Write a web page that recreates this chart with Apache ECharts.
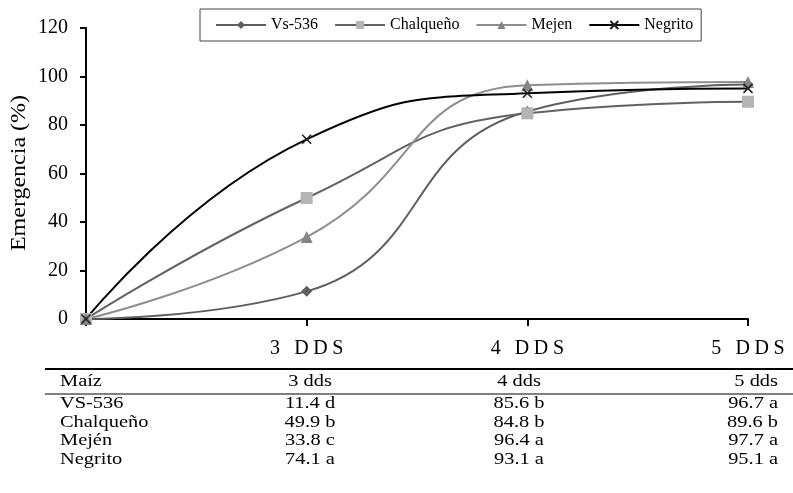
<!DOCTYPE html>
<html><head><meta charset="utf-8">
<script src="https://cdn.jsdelivr.net/npm/echarts@6/dist/echarts.min.js"></script>
<style>html,body{margin:0;padding:0;background:#fff}#c{width:793px;height:493px}</style>
</head><body><div id="c"></div>
<script>
const categories = ['', '3 DDS', '4 DDS', '5 DDS'];
const seriesNames = ['Vs-536', 'Chalqueño', 'Mejen', 'Negrito'];
const vs536 = [0, 11.4, 85.6, 96.7];
const chalqueno = [0, 49.9, 84.8, 89.6];
const mejen = [0, 33.8, 96.4, 97.7];
const negrito = [0, 74.1, 93.1, 95.1];
const yTicks = [0, 20, 40, 60, 80, 100, 120];
const yAxisTitle = 'Emergencia (%)';

const tableHeader = ['Maíz', '3 dds', '4 dds', '5 dds'];
const tableRows = ['VS-536', 'Chalqueño', 'Mején', 'Negrito'];
const table3 = ['11.4 d', '49.9 b', '33.8 c', '74.1 a'];
const table4 = ['85.6 b', '84.8 b', '96.4 a', '93.1 a'];
const table5 = ['96.7 a', '89.6 b', '97.7 a', '95.1 a'];

const FONT = '"Liberation Serif", "Times New Roman", serif';
const chart = echarts.init(document.getElementById('c'), null, {renderer: 'canvas'});

const cross = 'path://M0,0L10,10M10,0L0,10';
function mk(name, data, lineColor, symbol, symColor, symSize, extra) {
  return Object.assign({
    name, type: 'line', data, smooth: 0.5, symbol, symbolSize: symSize,
    lineStyle: {color: lineColor, width: 2},
    itemStyle: {color: symColor},
    emphasis: {disabled: true}
  }, extra || {});
}

const graphics = [];
graphics.push({type: 'line', shape: {x1: 45, y1: 369, x2: 793, y2: 369}, style: {stroke: '#000', lineWidth: 2}});
graphics.push({type: 'line', shape: {x1: 45, y1: 394, x2: 793, y2: 394}, style: {stroke: '#808080', lineWidth: 2}});
const rowY = [382, 404, 423, 441, 460];
const colX = [60, 310, 519, 778];
const colAlign = ['left', 'center', 'center', 'right'];
function txt(s, x, y, align) {
  graphics.push({type: 'text', x, y, scaleX: 1.2,
    style: {text: s, font: '17px ' + FONT, fill: '#000', align, verticalAlign: 'middle'}});
}
tableHeader.forEach((h, i) => txt(h, colX[i], rowY[0], colAlign[i]));
tableRows.forEach((r, j) => {
  txt(r, colX[0], rowY[j + 1], 'left');
  txt(table3[j], colX[1], rowY[j + 1], 'center');
  txt(table4[j], colX[2], rowY[j + 1], 'center');
  txt(table5[j], colX[3], rowY[j + 1], 'right');
});
graphics.push({type: 'text', x: 20, y: 173, rotation: Math.PI / 2, scaleX: 1.2,
  style: {text: yAxisTitle, font: '20px ' + FONT, fill: '#000', align: 'center', verticalAlign: 'middle'}});

chart.setOption({
  animation: false,
  backgroundColor: '#fff',
  textStyle: {fontFamily: FONT, color: '#000'},
  grid: {left: 86, right: 45, top: 28, bottom: 174, containLabel: false},
  legend: {
    data: seriesNames, left: 200, top: 9,
    padding: [8, 8, 8, 15], itemGap: 16, itemWidth: 50, itemHeight: 10,
    borderColor: '#444', borderWidth: 1,
    textStyle: {fontFamily: FONT, fontSize: 16, color: '#000'}
  },
  xAxis: {
    type: 'category', data: categories, boundaryGap: false,
    axisLine: {lineStyle: {color: '#000', width: 2}},
    axisTick: {show: true, interval: 0, length: 7, lineStyle: {color: '#000', width: 2}},
    axisLabel: {
      interval: 0, hideOverlap: false,
      fontFamily: FONT, fontSize: 20, color: '#000', margin: 20,
      formatter: v => v.split('').map(ch => '{c|' + ch + '}').join(''),
      rich: {c: {fontFamily: FONT, fontSize: 20, color: '#000', padding: [0, 2.3, 0, 2.3]}}
    },
    splitLine: {show: false}
  },
  yAxis: {
    type: 'value', min: yTicks[0], max: yTicks[yTicks.length - 1], interval: 20,
    axisLine: {show: true, lineStyle: {color: '#000', width: 2}},
    axisTick: {show: true, length: 6, lineStyle: {color: '#000', width: 2}},
    axisLabel: {fontFamily: FONT, fontSize: 20, color: '#000', margin: 18},
    splitLine: {show: false}
  },
  series: [
    mk('Vs-536', vs536, '#5f5f5f', 'diamond', '#5f5f5f', 11),
    mk('Chalqueño', chalqueno, '#626262', 'rect', '#b4b4b4', 12),
    mk('Mejen', mejen, '#8e8e8e', 'triangle', '#858585', 12),
    mk('Negrito', negrito, '#000', cross, 'none', 9, {
      itemStyle: {color: 'rgba(0,0,0,0)', borderColor: '#222', borderWidth: 1.6},
      z: 3
    })
  ],
  graphic: graphics
});
</script></body></html>
